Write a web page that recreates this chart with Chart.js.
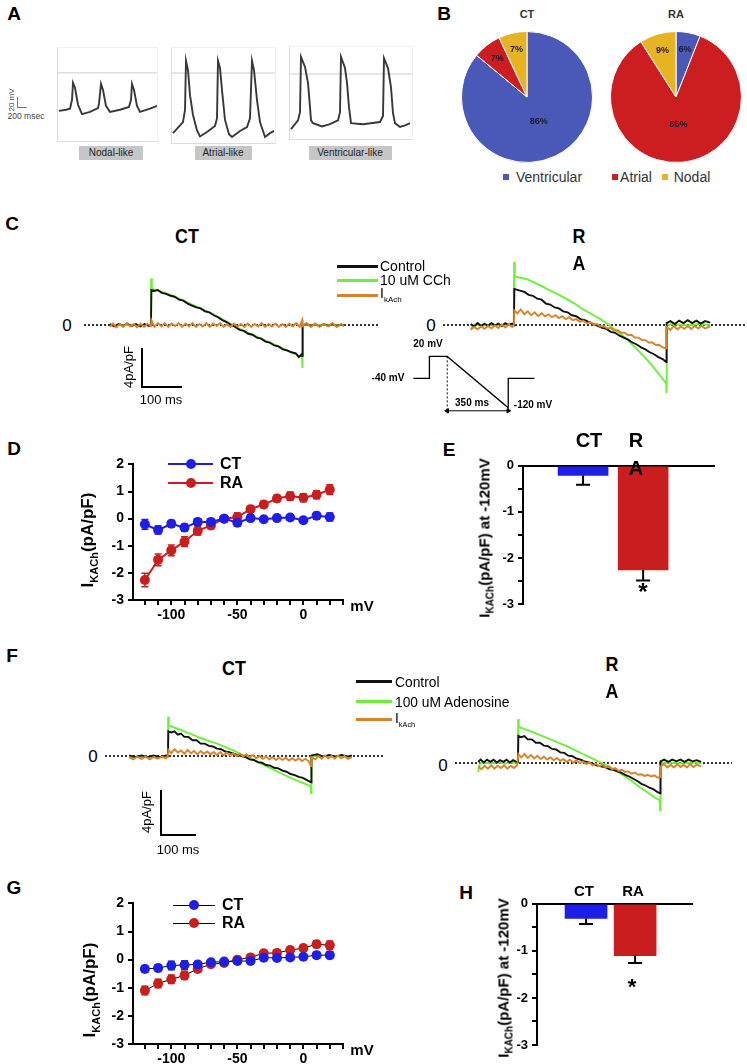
<!DOCTYPE html>
<html>
<head>
<meta charset="utf-8">
<script src="https://cdn.jsdelivr.net/npm/chart.js@4.4.1/dist/chart.umd.min.js"></script>
<style>
  body { margin: 0; background: #fff; width: 747px; height: 1064px; position: relative; overflow: hidden;
         font-family: "Liberation Sans", Arial, sans-serif; color: #000; }
  .t { position: absolute; transform: translate(-50%, -50%); white-space: nowrap; line-height: 1; }
  .ln { position: absolute; }
  canvas { position: absolute; }
</style>
</head>
<body>
<script>
// ---------- data ----------
// A: action potentials (ms, mV)
const apNodal = [[20,-69],[160,-67],[240,-65],[280,-49],[300,-18],[340,-27],[400,-58],[480,-75],[640,-71],[800,-64],[820,-56],[860,-20],[900,-31],[960,-60],[1040,-71],[1240,-67],[1420,-62],[1460,-49],[1480,-20],[1520,-31],[1580,-60],[1640,-71],[1840,-65],[1980,-60]];
const apAtrial = [[20,-109],[220,-89],[260,-67],[280,22],[320,5],[360,-40],[420,-76],[500,-104],[560,-115],[700,-107],[860,-96],[900,-82],[920,22],[960,9],[1000,-31],[1060,-85],[1140,-111],[1200,-116],[1360,-105],[1500,-98],[1560,-82],[1600,22],[1640,5],[1700,-49],[1760,-89],[1860,-116],[1960,-109],[2040,-105]];
const apVentricular = [[20,-100],[160,-84],[200,-69],[220,31],[300,13],[360,-16],[400,-60],[420,-84],[460,-89],[640,-95],[800,-91],[960,-84],[1000,-69],[1020,31],[1100,11],[1140,-16],[1180,-60],[1220,-89],[1460,-91],[1800,-87],[1860,-76],[1880,29],[1960,11],[2020,-24],[2060,-71],[2100,-89],[2200,-96],[2300,-93],[2400,-89]];
const apLabels = ['Nodal-like', 'Atrial-like', 'Ventricular-like'];

// B: pies (%)
const pieLabels = ['Ventricular', 'Atrial', 'Nodal'];
const ctPie = [86, 7, 7];
const raPie = [6, 85, 9];

// C: ramp currents (ms, pA/pF)
const ctC_ctrl = [[-95,0.1],[-85,-0.15],[-75,0.1],[-65,-0.1],[-55,0.15],[-45,-0.1],[-35,0.1],[-25,-0.15],[-15,0.1],[-5,-0.1],[0,0],[1,3.6],[8,3.5],[16,3.6],[25,3.3],[35,3.2],[45,3.0],[55,2.9],[65,2.6],[75,2.5],[85,2.2],[95,2.0],[105,1.8],[115,1.7],[125,1.4],[135,1.3],[145,1.0],[155,0.8],[165,0.5],[175,0.3],[185,0.0],[195,-0.2],[205,-0.5],[215,-0.6],[225,-0.9],[235,-1.0],[245,-1.3],[255,-1.4],[265,-1.7],[275,-1.8],[285,-2.1],[295,-2.2],[305,-2.5],[315,-2.6],[325,-2.8],[335,-2.9],[342,-3.3],[349,-3.0],[350,-3.2],[351,0],[360,0.1],[370,-0.1],[380,0.1],[390,-0.15],[400,0.1],[410,-0.1],[420,0.1],[430,-0.1],[440,0.05],[447,-0.05]];
const ctC_cch = [[-95,0],[-50,0],[0,0],[0.5,4.8],[2,3.7],[10,3.6],[25,3.4],[45,3.1],[65,2.7],[85,2.3],[105,1.9],[125,1.5],[145,1.1],[165,0.6],[185,0.1],[205,-0.4],[225,-0.8],[245,-1.2],[265,-1.6],[285,-2.0],[305,-2.4],[325,-2.8],[345,-3.2],[349.5,-3.3],[350,-4.4],[351,0],[447,0]];
const ctC_ik = [[-95,-0.2],[-88,0.15],[-80,-0.25],[-72,0.1],[-64,-0.2],[-56,0.2],[-48,-0.15],[-40,0.1],[-32,-0.25],[-24,0.15],[-16,-0.2],[-8,0.1],[0,-0.1],[1,0.5],[8,-0.2],[16,0.2],[24,-0.15],[32,0.2],[40,-0.2],[48,0.15],[56,-0.1],[64,0.2],[72,-0.2],[80,0.15],[88,-0.15],[96,0.2],[104,-0.2],[112,0.1],[120,-0.15],[128,0.2],[136,-0.2],[144,0.15],[152,-0.1],[160,0.2],[168,-0.2],[176,0.1],[184,-0.2],[192,0.15],[200,-0.15],[208,0.1],[216,-0.2],[224,0.15],[232,-0.2],[240,0.1],[248,-0.15],[256,0.2],[264,-0.2],[272,0.1],[280,-0.15],[288,0.15],[296,-0.2],[304,0.1],[312,-0.2],[320,0.15],[328,-0.15],[336,0.2],[344,-0.2],[350,0.5],[351,-0.1],[360,0.2],[370,-0.2],[380,0.15],[390,-0.2],[400,0.1],[410,-0.15],[420,0.2],[430,-0.2],[440,0.1],[447,-0.1]];
const raC_ctrl = [[-100,0.1],[-92,-0.15],[-84,0.2],[-76,-0.1],[-68,0.15],[-60,-0.1],[-52,0.2],[-44,-0.05],[-36,0.15],[-28,-0.1],[-20,0.2],[-12,0],[-4,0.15],[0,0],[1,3.7],[8,3.6],[16,3.5],[24,3.4],[34,3.1],[44,3.0],[54,2.7],[64,2.6],[74,2.2],[84,2.1],[94,1.8],[104,1.7],[114,1.4],[124,1.3],[134,1.0],[144,0.9],[154,0.6],[164,0.5],[174,0.3],[184,0.1],[194,-0.1],[204,-0.3],[214,-0.4],[224,-0.7],[234,-0.8],[244,-1.1],[254,-1.3],[264,-1.5],[274,-1.8],[284,-2.0],[294,-2.3],[304,-2.5],[314,-2.8],[324,-3.0],[334,-3.3],[344,-3.5],[352,-3.8],[353,0.2],[362,0.4],[372,0.1],[382,0.45],[392,0.2],[402,0.5],[412,0.2],[422,0.45],[432,0.15],[442,0.4],[454,0.25]];
const raC_cch = [[-100,-0.4],[-95,-0.1],[-88,0.05],[-70,-0.05],[-50,0.05],[-30,-0.05],[-10,0.05],[0,0],[0.5,6.5],[2,5.0],[10,4.9],[20,4.8],[30,4.7],[45,4.4],[60,4.1],[80,3.6],[100,3.2],[120,2.7],[140,2.2],[160,1.6],[180,1.1],[200,0.6],[220,0],[240,-0.7],[260,-1.4],[280,-2.3],[300,-3.2],[320,-4.2],[340,-5.3],[352,-6.0],[353,-7.0],[354,0],[370,0.1],[400,-0.05],[430,0.1],[454,0]];
const raC_ik = [[-100,-0.5],[-92,-0.2],[-84,-0.45],[-76,-0.15],[-68,-0.4],[-60,-0.1],[-52,-0.35],[-44,-0.05],[-36,-0.3],[-28,0.05],[-20,-0.25],[-12,0.05],[-4,-0.2],[0,0],[1,1.5],[8,1.2],[16,1.6],[24,1.1],[32,1.4],[40,1.0],[48,1.3],[56,0.9],[64,1.2],[72,0.9],[80,1.1],[88,0.8],[96,1.0],[104,0.7],[112,0.9],[120,0.6],[128,0.8],[136,0.5],[144,0.6],[152,0.35],[160,0.45],[168,0.2],[176,0.3],[184,0.05],[192,0.1],[200,-0.15],[208,-0.1],[216,-0.35],[224,-0.3],[232,-0.6],[240,-0.55],[248,-0.8],[256,-0.8],[264,-1.05],[272,-1.0],[280,-1.3],[288,-1.3],[296,-1.55],[304,-1.55],[312,-1.8],[320,-1.8],[328,-2.05],[336,-2.05],[344,-2.3],[352,-2.4],[353,-0.2],[362,-0.5],[370,-0.1],[378,-0.45],[386,-0.15],[394,-0.4],[402,-0.1],[410,-0.4],[418,-0.1],[426,-0.35],[434,-0.1],[442,-0.35],[454,-0.15]];
// ramp protocol (ms, mV)
const protoT = [-194, -102, -102, 0, 350, 350, 500];
const protoV = [-40, -40, 20, 20, -120, -40, -40];

// D / G: I-V curves (mV, pA/pF)
const ivVoltage = [-120,-110,-100,-90,-80,-70,-60,-50,-40,-30,-20,-10,0,10,20];
const dCT    = [-0.21,-0.42,-0.19,-0.33,-0.12,-0.12,0,-0.15,0.02,-0.02,0.02,0.04,-0.06,0.11,0.06];
const dCTerr = [0.18,0.15,0.12,0.12,0.12,0.1,0.1,0.12,0.1,0.08,0.1,0.1,0.1,0.12,0.15];
const dRA    = [-2.26,-1.52,-1.17,-0.85,-0.45,-0.25,0,0.06,0.35,0.52,0.74,0.83,0.77,0.88,1.07];
const dRAerr = [0.25,0.22,0.2,0.18,0.15,0.12,0.1,0.15,0.1,0.12,0.12,0.15,0.15,0.15,0.18];
const gCT    = [-0.33,-0.3,-0.21,-0.19,-0.17,-0.09,-0.07,-0.05,-0.05,0.07,0.06,0.08,0.1,0.16,0.16];
const gCTerr = [0.12,0.12,0.15,0.15,0.1,0.08,0.08,0.08,0.08,0.06,0.06,0.08,0.08,0.1,0.12];
const gRA    = [-1.1,-0.85,-0.7,-0.56,-0.33,-0.16,-0.12,0,0.08,0.23,0.24,0.34,0.41,0.55,0.51];
const gRAerr = [0.15,0.15,0.15,0.15,0.12,0.08,0.08,0.08,0.08,0.08,0.08,0.1,0.1,0.12,0.15];

// E / H: IKACh at -120 mV (pA/pF)
const groups = ['CT', 'RA'];
const eMean = [-0.21, -2.26];
const eErr  = [0.2, 0.23];
const hMean = [-0.31, -1.1];
const hErr  = [0.12, 0.16];

// F: ramp currents with adenosine (ms, pA/pF)
const ctF_ctrl = [[-95,0.05],[-80,-0.1],[-65,0.05],[-50,-0.1],[-35,0.05],[-20,-0.1],[-5,0.05],[0,0],[1,2.2],[8,2.1],[16,2.2],[24,1.9],[32,2.0],[40,1.7],[50,1.7],[60,1.4],[70,1.4],[80,1.1],[90,1.1],[100,0.9],[110,0.85],[120,0.65],[130,0.6],[140,0.4],[150,0.35],[160,0.2],[170,0.1],[180,0.0],[190,-0.1],[200,-0.3],[210,-0.35],[220,-0.55],[230,-0.6],[240,-0.8],[250,-0.85],[260,-1.05],[270,-1.1],[280,-1.3],[290,-1.4],[300,-1.6],[310,-1.7],[320,-1.85],[330,-1.95],[340,-2.15],[348,-2.3],[350,-2.35],[351,0.05],[365,0.15],[380,-0.05],[395,0.1],[410,-0.05],[425,0.1],[440,-0.05],[450,0.05]];
const ctF_ado = [[-95,-0.1],[-60,-0.05],[-20,-0.1],[0,-0.05],[0.5,3.5],[2,2.7],[10,2.6],[25,2.4],[40,2.2],[60,1.9],[80,1.6],[100,1.35],[120,1.1],[140,0.8],[160,0.5],[180,0.15],[200,-0.15],[220,-0.55],[240,-0.9],[260,-1.25],[280,-1.6],[300,-1.95],[320,-2.25],[340,-2.55],[349,-2.7],[350,-3.3],[351,0],[400,0],[450,-0.05]];
const ctF_ik = [[-95,-0.1],[-85,-0.3],[-75,-0.05],[-65,-0.25],[-55,-0.05],[-45,-0.3],[-35,-0.1],[-25,-0.25],[-15,-0.05],[-5,-0.2],[0,0],[1,0.55],[8,0.25],[16,0.6],[24,0.3],[32,0.5],[40,0.2],[48,0.55],[56,0.25],[64,0.45],[72,0.15],[80,0.45],[88,0.2],[96,0.4],[104,0.15],[112,0.35],[120,0.1],[128,0.35],[136,0.05],[144,0.3],[152,0.05],[160,0.25],[168,0.0],[176,0.2],[184,-0.05],[192,0.15],[200,-0.1],[208,0.1],[216,-0.2],[224,0.0],[232,-0.25],[240,-0.05],[248,-0.3],[256,-0.1],[264,-0.35],[272,-0.15],[280,-0.35],[288,-0.15],[296,-0.4],[304,-0.2],[312,-0.4],[320,-0.2],[328,-0.45],[336,-0.25],[344,-0.45],[350,-0.9],[351,-0.1],[360,-0.3],[368,0.0],[376,-0.25],[384,0.05],[392,-0.2],[400,0.0],[408,-0.25],[416,0.05],[424,-0.2],[432,0.0],[440,-0.25],[450,-0.1]];
const raF_ctrl = [[-98,0.1],[-92,0.3],[-84,0.05],[-76,0.3],[-68,0.1],[-60,0.3],[-52,0.05],[-44,0.25],[-36,0.1],[-28,0.3],[-20,0.05],[-12,0.25],[-4,0.1],[0,0.1],[1,2.4],[8,2.3],[16,2.4],[24,2.1],[34,2.1],[44,1.8],[54,1.8],[64,1.55],[74,1.5],[84,1.25],[94,1.2],[104,0.95],[114,0.9],[124,0.65],[134,0.6],[144,0.4],[154,0.3],[164,0.15],[174,0.05],[184,-0.05],[194,-0.2],[204,-0.3],[214,-0.35],[224,-0.55],[234,-0.6],[244,-0.75],[254,-0.85],[264,-1.05],[274,-1.2],[284,-1.4],[294,-1.6],[304,-1.85],[314,-2.0],[324,-2.2],[334,-2.35],[344,-2.6],[350,-2.7],[351,0.15],[360,0.3],[370,0.1],[380,0.3],[390,0.15],[400,0.3],[410,0.1],[420,0.3],[430,0.15],[440,0.25],[451,0.1]];
const raF_ado = [[-98,-0.8],[-95,-0.2],[-90,0.05],[-70,-0.05],[-50,0.05],[-30,-0.05],[-10,0.05],[0,0],[0.5,3.9],[2,3.2],[10,3.1],[25,2.9],[40,2.7],[60,2.4],[80,2.1],[100,1.8],[120,1.5],[140,1.15],[160,0.8],[180,0.45],[200,0.1],[220,-0.25],[240,-0.65],[260,-1.1],[280,-1.6],[300,-2.15],[320,-2.65],[340,-3.15],[349,-3.3],[350,-4.2],[351,0],[370,0.05],[400,-0.05],[430,0.05],[451,0]];
const raF_ik = [[-98,-0.3],[-90,-0.55],[-82,-0.25],[-74,-0.5],[-66,-0.2],[-58,-0.5],[-50,-0.25],[-42,-0.45],[-34,-0.2],[-26,-0.5],[-18,-0.25],[-10,-0.45],[-2,-0.2],[0,-0.2],[1,0.8],[8,0.5],[16,0.8],[24,0.45],[32,0.7],[40,0.4],[48,0.65],[56,0.35],[64,0.55],[72,0.3],[80,0.5],[88,0.25],[96,0.45],[104,0.2],[112,0.35],[120,0.1],[128,0.3],[136,0.05],[144,0.25],[152,0.0],[160,0.15],[168,-0.1],[176,0.05],[184,-0.2],[192,-0.05],[200,-0.3],[208,-0.15],[216,-0.4],[224,-0.3],[232,-0.55],[240,-0.45],[248,-0.7],[256,-0.6],[264,-0.8],[272,-0.75],[280,-0.95],[288,-0.85],[296,-1.05],[304,-1.0],[312,-1.15],[320,-1.05],[328,-1.2],[336,-1.1],[344,-1.3],[350,-1.25],[351,-0.3],[360,-0.1],[368,-0.4],[376,-0.15],[384,-0.4],[392,-0.1],[400,-0.35],[408,-0.15],[416,-0.4],[424,-0.1],[432,-0.35],[440,-0.15],[451,-0.3]];

// ---------- colours ----------
const BLACK = '#111', GREEN = '#6cf03a', ORANGE = '#d9822b';
const BLUE = '#1e1ee6', RED = '#c81e1e';
const pieColors = ['#4a58b8', '#cc1d20', '#e6b422'];

Chart.defaults.font.family = '"Liberation Sans", Arial, sans-serif';
Chart.defaults.color = '#000';

// ---------- helpers ----------
function mk(x, y, w, h) {
  const c = document.createElement('canvas');
  c.width = w; c.height = h;
  c.style.cssText = `left:${x}px;top:${y}px;width:${w}px;height:${h}px`;
  document.body.appendChild(c);
  return c;
}
function txt(x, y, html, css) {
  const d = document.createElement('div');
  d.className = 't';
  d.innerHTML = html;
  d.style.left = x + 'px';
  d.style.top = y + 'px';
  if (css) d.style.cssText += css;
  document.body.appendChild(d);
  return d;
}
function rect(x, y, w, h, css) {
  const d = document.createElement('div');
  d.className = 'ln';
  d.style.cssText += `left:${x}px;top:${y}px;width:${w}px;height:${h}px;` + (css || '');
  document.body.appendChild(d);
  return d;
}
const pts = arr => arr.map(p => ({ x: p[0], y: p[1] }));
const baseOpts = { responsive: false, animation: false, events: [],
  plugins: { legend: { display: false }, tooltip: { enabled: false } } };

// traces without axes: the canvas is the plot area
function traceChart(x, y, w, h, xr, yr, sets) {
  return new Chart(mk(x, y, w, h), {
    type: 'line',
    data: { datasets: sets.map(s => ({
      data: s.data, borderColor: s.color, borderWidth: s.w || 1.9, borderDash: s.dash || [],
      pointRadius: s.pr || 0, pointStyle: s.ps || 'circle', pointRotation: s.rot || 0,
      backgroundColor: s.color, tension: 0, fill: false })) },
    options: Object.assign({}, baseOpts, {
      layout: { padding: 0 },
      scales: { x: { type: 'linear', min: xr[0], max: xr[1], display: false },
                y: { min: yr[0], max: yr[1], display: false } } })
  });
}

// error bars, drawn through the y scale
function drawErr(chart, after) {
  const { ctx } = chart, y = chart.scales.y;
  chart.data.datasets.forEach((ds, i) => {
    if (!ds.err || !!ds.errAfter !== after) return;
    chart.getDatasetMeta(i).data.forEach((el, j) => {
      const v = ds.data[j].y, e = ds.err[j], w = ds.capW || 3;
      const y0 = y.getPixelForValue(ds.errDown ? v : v + e);
      const y1 = y.getPixelForValue(v - e);
      ctx.save();
      ctx.strokeStyle = ds.errColor; ctx.lineWidth = ds.errWidth || 1.5;
      ctx.beginPath();
      ctx.moveTo(el.x, y0); ctx.lineTo(el.x, y1);
      ctx.moveTo(el.x - w, y1); ctx.lineTo(el.x + w, y1);
      if (!ds.errDown) { ctx.moveTo(el.x - w, y0); ctx.lineTo(el.x + w, y0); }
      ctx.stroke();
      ctx.restore();
    });
  });
}
const errPlugin = { id: 'errbars',
  beforeDatasetsDraw: c => drawErr(c, false),
  afterDatasetsDraw: c => drawErr(c, true) };

const axisBase = {
  grid: { drawOnChartArea: false, tickLength: 5, color: '#000', lineWidth: 2 },
  border: { color: '#000', width: 2 }
};
const tickFont = { weight: 'bold', size: 14 };

// ---------- panel letters ----------
[['A', 14, 13], ['B', 444, 13], ['C', 12, 223], ['D', 14, 448], ['E', 449, 449],
 ['F', 12, 655], ['G', 14, 887], ['H', 466, 892]].forEach(l =>
  txt(l[1], l[2], l[0], 'font-weight:bold;font-size:19px;'));

// ---------- A ----------
const apBoxes = [
  { data: apNodal, x: 58, y: 47, w: 99, h: 93, xr: [0, 1980], yr: [-122, 47], lab: 111, lw: 64 },
  { data: apAtrial, x: 172, y: 47, w: 103, h: 95, xr: [0, 2060], yr: [-125, 47], lab: 223, lw: 57 },
  { data: apVentricular, x: 290, y: 46, w: 122, h: 92, xr: [0, 2440], yr: [-116, 51], lab: 350, lw: 83 }
];
apBoxes.forEach((b, i) => {
  rect(b.x - 1, b.y, b.w, b.h, 'border-left:1px solid #dcdcdc;border-bottom:1px solid #dcdcdc;border-top:1px solid #f0f0f0;border-right:1px solid #f0f0f0;');
  traceChart(b.x, b.y, b.w, b.h, b.xr, b.yr, [
    { data: pts(b.data), color: '#383838', w: 1.9 },
    { data: [{ x: b.xr[0], y: 0 }, { x: b.xr[1], y: 0 }], color: '#dedede', w: 1.5 }
  ]);
  rect(b.lab - b.lw / 2, 146, b.lw, 14, 'background:#c6c6c6;');
  txt(b.lab, 153, apLabels[i], 'font-size:10px;color:#222;');
});
rect(17, 97, 1, 11, 'background:#777;');
rect(17, 107, 10, 1, 'background:#777;');
txt(12, 100, '20 mV', 'font-size:8px;color:#444;transform:translate(-50%,-50%) rotate(-90deg);');
txt(26, 116, '200 msec', 'font-size:8.5px;color:#444;');

// ---------- B ----------
const pieText = { id: 'pieText', afterDatasetsDraw(chart) {
  const { ctx } = chart, ds = chart.data.datasets[0];
  ctx.save();
  ctx.font = 'bold 9px "Liberation Sans", Arial';
  ctx.fillStyle = '#1b1b2e';
  ctx.textAlign = 'center'; ctx.textBaseline = 'middle';
  chart.getDatasetMeta(0).data.forEach((arc, i) => {
    const mid = (arc.startAngle + arc.endAngle) / 2;
    const r = arc.outerRadius * (ds.data[i] > 20 ? 0.42 : 0.74);
    ctx.fillText(ds.data[i] + '%', arc.x + Math.cos(mid) * r, arc.y + Math.sin(mid) * r);
  });
  ctx.restore();
} };
[[ctPie, 527, 'CT'], [raPie, 676, 'RA']].forEach(p => {
  new Chart(mk(p[1] - 69, 97 - 69, 138, 138), {
    type: 'pie',
    data: { labels: pieLabels, datasets: [{ data: p[0], backgroundColor: pieColors, borderColor: '#fff', borderWidth: 1 }] },
    options: Object.assign({}, baseOpts, { layout: { padding: 3 } }),
    plugins: [pieText]
  });
  txt(p[1], 14, p[2], 'font-weight:bold;font-size:11px;color:#333;');
});
[[506, 549, 0], [615, 636, 1], [665, 692, 2]].forEach(l => {
  rect(l[0] - 3, 174, 6, 6, 'background:' + pieColors[l[2]] + ';');
  txt(l[1], 177, pieLabels[l[2]], 'font-size:14px;color:#333;');
});

// ---------- C and F (ramp current traces) ----------
function zeroLine(xr) { return { data: [{ x: xr[0], y: 0 }, { x: xr[1], y: 0 }], color: '#000', w: 1.6, dash: [2, 2] }; }
const cCTx = [-155, 530], cRAx = [-164, 539], cY = [-7.7, 7.7];
traceChart(84, 250, 296, 150, cCTx, cY, [
  { data: pts(ctC_ik), color: ORANGE }, { data: pts(ctC_ctrl), color: BLACK },
  { data: pts(ctC_cch), color: GREEN }, zeroLine(cCTx)]);
traceChart(443, 250, 304, 150, cRAx, cY, [
  { data: pts(raC_ik), color: ORANGE }, { data: pts(raC_ctrl), color: BLACK },
  { data: pts(raC_cch), color: GREEN }, zeroLine(cRAx)]);

const titleCss = 'font-weight:bold;font-size:21px;transform:translate(-50%,-50%) scaleX(0.85);';
txt(187, 235, 'CT', titleCss);
txt(579, 235, 'R', titleCss);
txt(579, 262, 'A', titleCss);
txt(67, 325, '0', 'font-size:17px;');
txt(431, 325, '0', 'font-size:17px;');
[['Control', BLACK, 266], ['10 uM CCh', GREEN, 280], ['I<sub style="font-size:8px">kAch</sub>', ORANGE, 295]].forEach(l => {
  rect(337, l[2] - 1, 41, 2.5, 'background:' + l[1] + ';');
  txt(380, l[2], l[0], 'font-size:14px;transform:translate(0,-50%);');
});
// scale bar
rect(141, 348, 1.5, 39, 'background:#000;');
rect(141, 386, 41, 1.5, 'background:#000;');
txt(128, 367, '4pA/pF', 'font-size:13px;transform:translate(-50%,-50%) rotate(-90deg);');
txt(161, 399, '100 ms', 'font-size:13px;');
// voltage protocol
traceChart(400, 340, 160, 85, [-242, 618], [-153, 51], [
  { data: protoT.map((t, i) => ({ x: t, y: protoV[i] })), color: '#000', w: 1.3 },
  { data: [{ x: 0, y: 20 }, { x: 0, y: -135 }], color: '#000', w: 1, dash: [2, 2] },
  { data: [{ x: 0, y: -128 }, { x: 350, y: -128 }], color: '#000', w: 1, pr: 2.5, ps: 'triangle', rot: [270, 90] }
]);
txt(428, 344, '20 mV', 'font-weight:bold;font-size:10px;');
txt(388, 378, '-40 mV', 'font-weight:bold;font-size:10px;');
txt(472, 403, '350 ms', 'font-weight:bold;font-size:10px;');
txt(533, 405, '-120 mV', 'font-weight:bold;font-size:10px;');

const fCTx = [-154, 526], fRAx = [-155, 527], fY = [-6.67, 6.67];
traceChart(105, 681, 278, 150, fCTx, fY, [
  { data: pts(ctF_ik), color: ORANGE }, { data: pts(ctF_ctrl), color: BLACK },
  { data: pts(ctF_ado), color: GREEN }, zeroLine(fCTx)]);
traceChart(455, 688, 277, 150, fRAx, fY, [
  { data: pts(raF_ik), color: ORANGE }, { data: pts(raF_ctrl), color: BLACK },
  { data: pts(raF_ado), color: GREEN }, zeroLine(fRAx)]);
txt(234, 667, 'CT', titleCss);
txt(612, 663, 'R', titleCss);
txt(612, 690, 'A', titleCss);
txt(93, 756, '0', 'font-size:17px;');
txt(443, 765, '0', 'font-size:17px;');
[['Control', BLACK, 681], ['100 uM Adenosine', GREEN, 701], ['I<sub style="font-size:8px">kAch</sub>', ORANGE, 719]].forEach(l => {
  rect(356, l[2] - 1, 36, 3, 'background:' + l[1] + ';');
  txt(395, l[2], l[0], 'font-size:15px;transform:translate(0,-50%) scaleX(0.92);transform-origin:0 50%;');
});
rect(160, 790, 1.5, 45, 'background:#000;');
rect(160, 834, 36, 1.5, 'background:#000;');
txt(146, 812, '4pA/pF', 'font-size:13px;transform:translate(-50%,-50%) rotate(-90deg);');
txt(178, 849, '100 ms', 'font-size:13px;');

// ---------- D and G (I-V) ----------
function ivChart(x, y, h, axisH, ct, ctErr, ra, raErr, joined) {
  new Chart(mk(x, y, 270, h), {
    type: 'line',
    data: { datasets: [
      { data: ivVoltage.map((v, i) => ({ x: v, y: ct[i] })), borderColor: joined ? '#000' : BLUE,
        borderWidth: joined ? 1 : 2, backgroundColor: BLUE, pointRadius: 5, pointBorderWidth: 0,
        err: ctErr, errColor: BLUE, capW: 3.5 },
      { data: ivVoltage.map((v, i) => ({ x: v, y: ra[i] })), borderColor: joined ? '#000' : RED,
        borderWidth: joined ? 1 : 2, backgroundColor: RED, pointRadius: 5, pointBorderWidth: 0,
        err: raErr, errColor: RED, capW: 3.5 }
    ] },
    options: Object.assign({}, baseOpts, {
      layout: { padding: { top: 10, right: 10, left: 0, bottom: 0 } },
      scales: {
        x: Object.assign({ type: 'linear', min: -129, max: 30, afterFit: s => { s.height = axisH; },
          ticks: { stepSize: 10, includeBounds: false, autoSkip: false, maxRotation: 0, padding: 2,
                   font: tickFont, callback: v => (v % 50 === 0 ? v : '') } }, axisBase),
        y: Object.assign({ min: -3, max: 2, afterFit: s => { s.width = 50; },
          ticks: { stepSize: 1, padding: 4, font: tickFont } }, axisBase)
      }
    }),
    plugins: [errPlugin]
  });
}
ivChart(83, 452, 175, 27, dCT, dCTerr, dRA, dRAerr, false);
ivChart(83, 891, 173, 20, gCT, gCTerr, gRA, gRAerr, true);

const ivTitle = 'I<span style="font-size:11px;position:relative;top:5px">KACh</span>(pA/pF)';
txt(87, 540, ivTitle, 'font-weight:bold;font-size:17px;transform:translate(-50%,-50%) rotate(-90deg);');
txt(89, 990, ivTitle, 'font-weight:bold;font-size:17px;transform:translate(-50%,-50%) rotate(-90deg);');
txt(362, 605, 'mV', 'font-weight:bold;font-size:15px;');
txt(362, 1049, 'mV', 'font-weight:bold;font-size:15px;');
// legends
[[464, BLUE, 'CT', 168, 213, 220, false], [483, RED, 'RA', 168, 213, 220, false],
 [905, BLUE, 'CT', 173, 215, 222, true], [923, RED, 'RA', 173, 215, 222, true]].forEach(l => {
  rect(l[3], l[0] - (l[6] ? 0.5 : 1), l[4] - l[3], l[6] ? 1 : 2, 'background:' + (l[6] ? '#000' : l[1]) + ';');
  rect((l[3] + l[4]) / 2 - 5, l[0] - 5, 10, 10, 'border-radius:50%;background:' + l[1] + ';');
  txt(l[5], l[0], l[2], 'font-weight:bold;font-size:16px;transform:translate(0,-50%);');
});

// ---------- E and H (bars) ----------
function barChart(x, y, w, h, padB, xmax, thick, mean, err) {
  new Chart(mk(x, y, w, h), {
    type: 'bar',
    data: { datasets: [{ data: groups.map((g, i) => ({ x: i + 1, y: mean[i] })),
      backgroundColor: [BLUE, RED], barThickness: thick,
      err: err, errDown: true, errAfter: true, errColor: '#000', errWidth: 2, capW: 7 }] },
    options: Object.assign({}, baseOpts, {
      layout: { padding: { top: 10, right: 10, left: 0, bottom: padB } },
      scales: {
        x: { type: 'linear', position: 'top', min: 0, max: xmax, offset: false,
             afterFit: s => { s.height = 0; }, ticks: { display: false },
             grid: { drawOnChartArea: false, drawTicks: false }, border: { color: '#000', width: 2 } },
        y: Object.assign({ min: -3, max: 0, afterFit: s => { s.width = 50; },
          ticks: { stepSize: 0.5, padding: 4, font: { weight: 'bold', size: 13 },
                   callback: v => (Number.isInteger(v) ? v : '') } }, axisBase)
      }
    }),
    plugins: [errPlugin]
  });
}
barChart(473, 454, 251, 165, 15, 3.18, 50, eMean, eErr);
barChart(487, 892, 215, 165, 12, 3.16, 42, hMean, hErr);

const barTitle = 'I<span style="font-size:10px;position:relative;top:4px">KACh</span>(pA/pF) at -120mV';
txt(484, 538, barTitle, 'font-weight:bold;font-size:15px;transform:translate(-50%,-50%) rotate(-90deg);');
txt(503, 978, barTitle, 'font-weight:bold;font-size:15px;transform:translate(-50%,-50%) rotate(-90deg);');
txt(589, 440, 'CT', 'font-weight:bold;font-size:20px;');
txt(636, 440, 'R', 'font-weight:bold;font-size:20px;');
txt(636, 468, 'A', 'font-weight:bold;font-size:20px;');
txt(643, 592, '*', 'font-weight:bold;font-size:24px;');
txt(584, 890, 'CT', 'font-weight:bold;font-size:15px;');
txt(633, 890, 'RA', 'font-weight:bold;font-size:15px;');
txt(632, 987, '*', 'font-weight:bold;font-size:22px;');
</script>
</body>
</html>
